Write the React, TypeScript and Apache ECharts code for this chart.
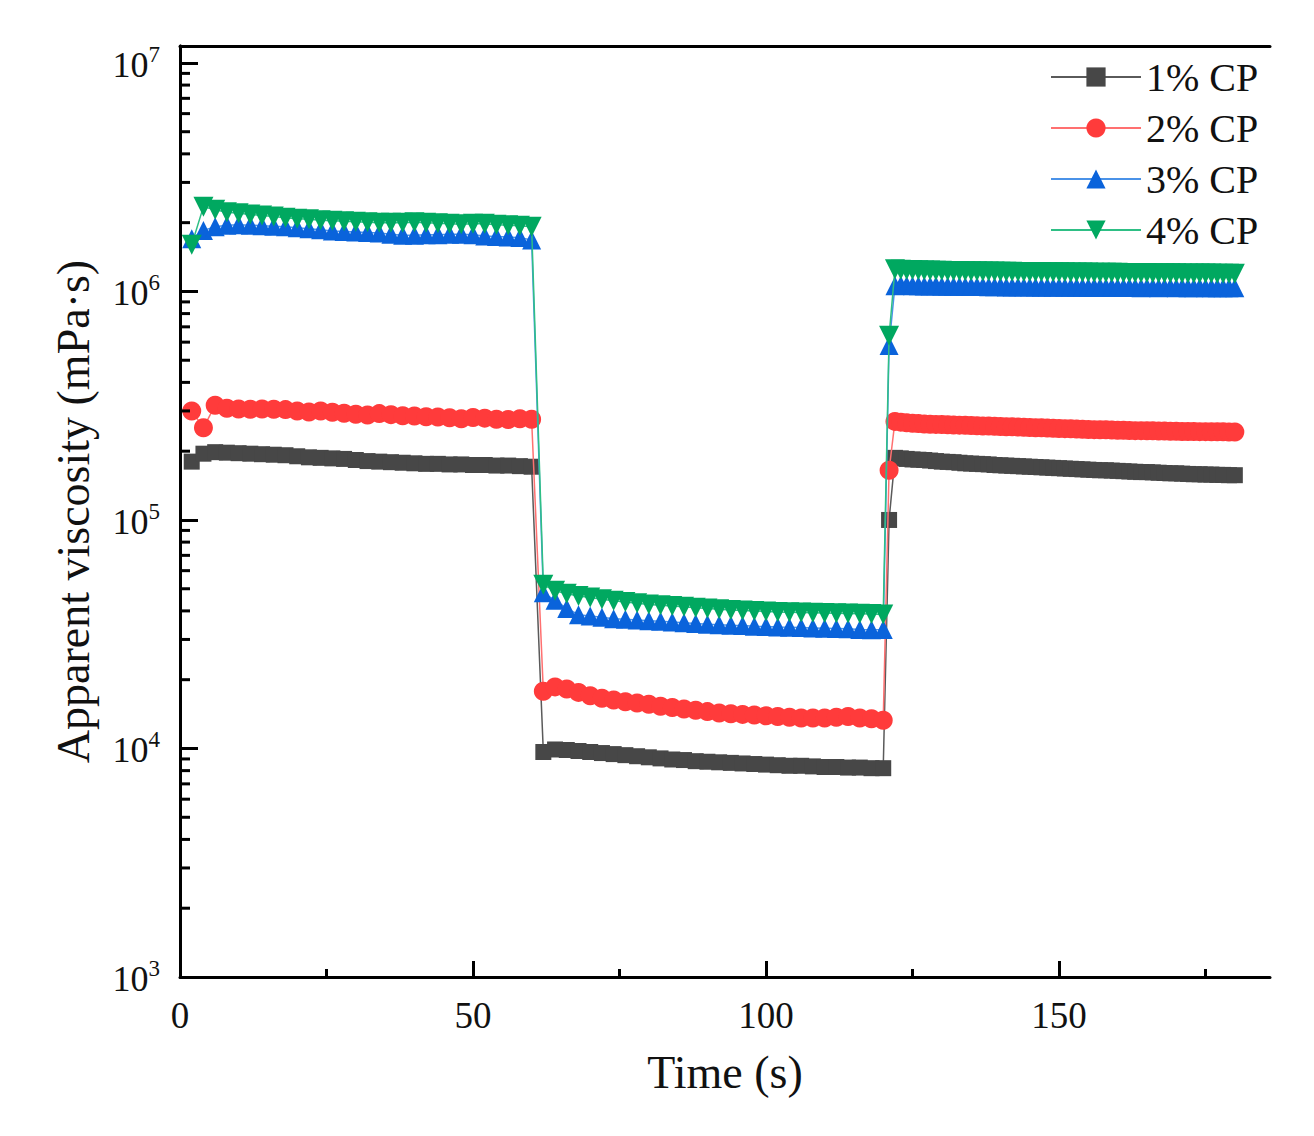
import React, { useEffect, useRef } from "react";
import * as echarts from "echarts";

// ---- time stamps (s) ----
const timeSeg1 = [2, 4, 6, 8, 10, 12, 14, 16, 18, 20, 22, 24, 26, 28, 30, 32, 34, 36, 38, 40, 42, 44, 46, 48, 50, 52, 54, 56, 58, 60];
const timeSeg2 = [62, 64, 66, 68, 70, 72, 74, 76, 78, 80, 82, 84, 86, 88, 90, 92, 94, 96, 98, 100, 102, 104, 106, 108, 110, 112, 114, 116, 118, 120];
const timeSeg3 = [121, 122, 123, 124, 125, 126, 127, 128, 129, 130, 131, 132, 133, 134, 135, 136, 137, 138, 139, 140,
  141, 142, 143, 144, 145, 146, 147, 148, 149, 150, 151, 152, 153, 154, 155, 156, 157, 158, 159, 160,
  161, 162, 163, 164, 165, 166, 167, 168, 169, 170, 171, 172, 173, 174, 175, 176, 177, 178, 179, 180];

// ---- 1% CP ----
const cp1Seg1 = [180000, 195000, 198000, 197000, 196000, 195000, 194000, 193000, 192000, 190000, 188000, 187000, 186000, 185000, 183000, 181000, 180000, 179000, 178000, 177000, 176000, 176000, 175000, 175000, 174000, 174000, 173000, 173000, 172000, 171000];
const cp1Seg2 = [9650, 9900, 9850, 9750, 9650, 9550, 9450, 9350, 9250, 9150, 9050, 8950, 8900, 8800, 8750, 8700, 8650, 8600, 8550, 8500, 8450, 8400, 8400, 8350, 8300, 8300, 8250, 8250, 8200, 8200];
const cp1Seg3 = [100000,
  187000, 186000, 185000, 184000, 183500, 183000, 182000, 181000, 180000, 179500,
  179000, 178000, 177000, 176500, 176000, 175500, 175000, 174000, 173500, 173000,
  172500, 172000, 171500, 171000, 170500, 170000, 169500, 169000, 168500, 168000,
  167500, 167000, 166500, 166000, 165500, 165000, 165000, 164500, 164000, 163500,
  163000, 162500, 162000, 162000, 161500, 161000, 160500, 160000, 160000, 159500,
  159000, 158500, 158500, 158000, 158000, 157500, 157500, 157000, 157000];

// ---- 2% CP ----
const cp2Seg1 = [300000, 253000, 318000, 308000, 306000, 305000, 306000, 305000, 304000, 300000, 297000, 300000, 296000, 293000, 290000, 288000, 292000, 289000, 286000, 285000, 283000, 282000, 280000, 277000, 281000, 279000, 276000, 275000, 277000, 276000];
const cp2Seg2 = [17800, 18600, 18200, 17600, 17000, 16600, 16300, 16000, 15800, 15600, 15300, 15100, 14900, 14700, 14500, 14300, 14200, 14100, 14000, 13900, 13800, 13700, 13600, 13600, 13600, 13700, 13800, 13600, 13500, 13300];
const cp2Seg3 = [165000,
  270000, 268000, 266000, 265000, 264000, 263000, 262500, 262000, 261500, 261000,
  260500, 260000, 259500, 259000, 258500, 258000, 257500, 257000, 256500, 256000,
  255500, 255000, 254500, 254000, 253500, 253000, 252500, 252000, 251500, 251000,
  250500, 250000, 249500, 249000, 248500, 248000, 248000, 247500, 247000, 247000,
  246500, 246000, 246000, 245500, 245500, 245000, 245000, 244500, 244500, 244000,
  244000, 244000, 243500, 243500, 243000, 243000, 243000, 242500, 242500];

// ---- 3% CP ----
const cp3Seg1 = [1700000, 1850000, 1920000, 1950000, 1960000, 1950000, 1940000, 1930000, 1920000, 1900000, 1880000, 1860000, 1840000, 1830000, 1820000, 1810000, 1800000, 1780000, 1760000, 1760000, 1770000, 1770000, 1780000, 1780000, 1770000, 1750000, 1740000, 1730000, 1720000, 1680000];
const cp3Seg2 = [48000, 44500, 41000, 38500, 38000, 37500, 37000, 36800, 36500, 36200, 36000, 35800, 35500, 35200, 35000, 34800, 34600, 34500, 34300, 34200, 34000, 33900, 33800, 33700, 33600, 33500, 33400, 33200, 33100, 33200];
const cp3Seg3 = [580000,
  1060000, 1065000, 1062000, 1060000, 1058000, 1057000, 1056000, 1058000, 1055000, 1054000,
  1053000, 1055000, 1052000, 1051000, 1050000, 1052000, 1049000, 1048000, 1050000, 1047000,
  1046000, 1048000, 1045000, 1047000, 1046000, 1044000, 1045000, 1043000, 1045000, 1044000,
  1042000, 1044000, 1043000, 1041000, 1043000, 1042000, 1040000, 1042000, 1041000, 1040000,
  1042000, 1041000, 1039000, 1041000, 1040000, 1039000, 1041000, 1040000, 1038000, 1040000,
  1039000, 1038000, 1040000, 1039000, 1038000, 1039000, 1037000, 1038000, 1037000];

// ---- 4% CP ----
const cp4Seg1 = [1600000, 2350000, 2280000, 2220000, 2200000, 2170000, 2150000, 2130000, 2100000, 2080000, 2070000, 2050000, 2040000, 2030000, 2020000, 2010000, 2000000, 2000000, 2000000, 2010000, 2000000, 1990000, 1980000, 1970000, 1980000, 1980000, 1960000, 1950000, 1940000, 1920000];
const cp4Seg2 = [52000, 49000, 47500, 46500, 45800, 45000, 44300, 43700, 43200, 42700, 42300, 42000, 41700, 41300, 41000, 40700, 40400, 40200, 40000, 39800, 39600, 39500, 39400, 39300, 39200, 39100, 39000, 38900, 38800, 38600];
const cp4Seg3 = [640000,
  1250000, 1245000, 1242000, 1240000, 1238000, 1236000, 1235000, 1233000, 1232000, 1230000,
  1229000, 1228000, 1227000, 1226000, 1225000, 1224000, 1223000, 1222000, 1221000, 1220000,
  1219000, 1218000, 1217000, 1216000, 1216000, 1215000, 1214000, 1213000, 1213000, 1212000,
  1211000, 1210000, 1210000, 1209000, 1208000, 1208000, 1207000, 1206000, 1206000, 1205000,
  1204000, 1204000, 1203000, 1203000, 1202000, 1201000, 1201000, 1200000, 1200000, 1199000,
  1199000, 1198000, 1198000, 1197000, 1197000, 1196000, 1196000, 1195000, 1195000];

const seriesNames = ["1% CP", "2% CP", "3% CP", "4% CP"];
const xTickValues = [0, 50, 100, 150];
const yMajorExponents = [3, 4, 5, 6, 7];
const yMinorTicks = [
  2000, 3000, 4000, 5000, 6000, 7000, 8000, 9000,
  20000, 30000, 40000, 50000, 60000, 70000, 80000, 90000,
  200000, 300000, 400000, 500000, 600000, 700000, 800000, 900000,
  2000000, 3000000, 4000000, 5000000, 6000000, 7000000, 8000000, 9000000,
];

const FONT = "'Liberation Serif', 'Times New Roman', serif";

const allTimes = [...timeSeg1, ...timeSeg2, ...timeSeg3];
const zip = (vals: number[]) => allTimes.map((t, i) => [t, vals[i]]);

export default function App() {
  const ref = useRef<HTMLDivElement>(null);
  useEffect(() => {
    if (!ref.current) return;
    const chart = echarts.init(ref.current, undefined, { renderer: "svg" });
    const downTri = "path://M0,0 L10,0 L5,8.66 Z";
    const styles = [
      { marker: "#474747", line: "#5a5a5a", symbol: "rect", size: 16 },
      { marker: "#FF3B3B", line: "#FF7070", symbol: "circle", size: 19 },
      { marker: "#0A63DB", line: "#4A92E8", symbol: "triangle", size: 19 },
      { marker: "#00A860", line: "#2EBF85", symbol: downTri, size: 20 },
    ];
    const datasets = [
      [...cp1Seg1, ...cp1Seg2, ...cp1Seg3],
      [...cp2Seg1, ...cp2Seg2, ...cp2Seg3],
      [...cp3Seg1, ...cp3Seg2, ...cp3Seg3],
      [...cp4Seg1, ...cp4Seg2, ...cp4Seg3],
    ];
    const lineSeries = datasets.map((vals, i) => ({
      name: seriesNames[i],
      type: "line",
      data: zip(vals),
      symbol: styles[i].symbol,
      symbolSize: styles[i].size,
      showAllSymbol: true,
      itemStyle: { color: styles[i].marker },
      lineStyle: { color: styles[i].line, width: 1.5 },
      z: 2 + i,
    }));
    const yMax = 11860000;
    chart.setOption({
      animation: false,
      backgroundColor: "#ffffff",
      textStyle: { fontFamily: FONT },
      grid: { left: 180, right: 44, top: 46, bottom: 159, containLabel: false },
      legend: {
        data: seriesNames,
        orient: "vertical",
        left: 1045,
        top: 52,
        itemWidth: 90,
        itemHeight: 24,
        itemGap: 11,
        textStyle: { fontFamily: FONT, fontSize: 40, color: "#111", lineHeight: 40 },
      },
      xAxis: [
        {
          type: "value",
          min: 0,
          max: 186,
          interval: 50,
          position: "bottom",
          name: "Time (s)",
          nameLocation: "middle",
          nameGap: 72,
          nameTextStyle: { fontFamily: FONT, fontSize: 46, color: "#111" },
          axisLine: { show: true, lineStyle: { color: "#000", width: 3 } },
          axisTick: { show: true, inside: true, length: 16, customValues: xTickValues, lineStyle: { color: "#000", width: 3 } },
          minorTick: { show: true, splitNumber: 2, length: 8, lineStyle: { color: "#000", width: 3 } },
          axisLabel: {
            margin: 20,
            fontFamily: FONT,
            fontSize: 37,
            color: "#111",
            formatter: (v: number) => (xTickValues.includes(v) ? String(v) : ""),
          },
          splitLine: { show: false },
        },
        {
          type: "value",
          min: 0,
          max: 186,
          position: "top",
          axisLine: { show: true, lineStyle: { color: "#000", width: 3 } },
          axisTick: { show: false },
          axisLabel: { show: false },
          splitLine: { show: false },
        },
      ],
      yAxis: [
        {
          type: "log",
          logBase: 10,
          min: 1000,
          max: yMax,
          position: "left",
          name: "Apparent viscosity (mPa·s)",
          nameLocation: "middle",
          nameGap: 84,
          nameTextStyle: { fontFamily: FONT, fontSize: 46, color: "#111" },
          axisLine: { show: true, lineStyle: { color: "#000", width: 3 } },
          axisTick: { show: true, inside: true, length: 18, lineStyle: { color: "#000", width: 3 } },
          axisLabel: {
            margin: 20,
            fontFamily: FONT,
            color: "#111",
            formatter: (v: number) => {
              const e = Math.round(Math.log10(v));
              if (Math.abs(Math.log10(v) - e) > 1e-6 || !yMajorExponents.includes(e)) return "";
              return "{b|10}{s|" + e + "}";
            },
            rich: {
              b: { fontFamily: FONT, fontSize: 36, color: "#111", verticalAlign: "bottom", lineHeight: 40 },
              s: { fontFamily: FONT, fontSize: 23, color: "#111", verticalAlign: "top", lineHeight: 24 },
            },
          },
          splitLine: { show: false },
        },
        {
          type: "log",
          logBase: 10,
          min: 1000,
          max: yMax,
          position: "right",
          axisLine: { show: true, lineStyle: { color: "#000", width: 3 } },
          axisTick: { show: false },
          axisLabel: { show: false },
          splitLine: { show: false },
        },
      ],
      series: [
        ...lineSeries,
        {
          type: "custom",
          name: "minorY",
          silent: true,
          clip: false,
          z: 10,
          data: yMinorTicks.map((v) => [0, v]),
          renderItem: (params: any, api: any) => {
            const p = api.coord([api.value(0), api.value(1)]);
            return {
              type: "line",
              shape: { x1: p[0], y1: p[1], x2: p[0] + 10, y2: p[1] },
              style: { stroke: "#000", lineWidth: 3 },
            };
          },
        },
      ],
    });
    return () => chart.dispose();
  }, []);
  return (
    <div
      ref={ref}
      style={{ position: "absolute", left: 0, top: 0, width: 1314, height: 1136, background: "#fff" }}
    />
  );
}
